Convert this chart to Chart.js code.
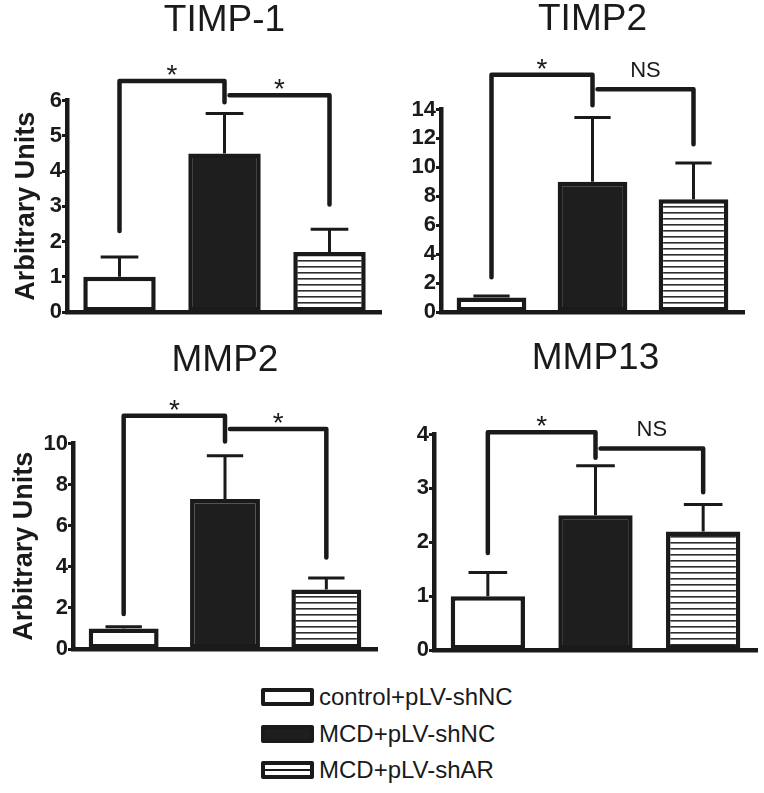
<!DOCTYPE html>
<html>
<head>
<meta charset="utf-8">
<script src="https://cdn.jsdelivr.net/npm/chart.js@4.4.1/dist/chart.umd.min.js"></script>
<style>
  html, body { margin: 0; padding: 0; background: #fff; }
  #wrap { position: relative; width: 764px; height: 793px; overflow: hidden; }
  #wrap canvas { position: absolute; }
  .legend { position: absolute; left: 261px; top: 679px; font-family: "Liberation Sans", Arial, sans-serif; font-size: 24px; color: #1a1a1a; }
  .row { display: flex; align-items: center; height: 36.5px; }
  .box { width: 45px; height: 10px; border: 4px solid #1a1a1a; border-radius: 2px; margin-right: 5px; background: #fff; }
  .box.dark { background: #1e1e1e; }
  .box.lines { background: linear-gradient(#fff 0 4px, #1a1a1a 4px 6px, #fff 6px 10px); }
</style>
</head>
<body>
<div id="wrap">
  <canvas id="c1" width="382" height="330" style="left:0;top:0"></canvas>
  <canvas id="c2" width="382" height="330" style="left:382px;top:0"></canvas>
  <canvas id="c3" width="382" height="340" style="left:0;top:330px"></canvas>
  <canvas id="c4" width="382" height="340" style="left:382px;top:330px"></canvas>
  <div class="legend">
    <div class="row"><div class="box"></div><span>control+pLV-shNC</span></div>
    <div class="row"><div class="box dark"></div><span>MCD+pLV-shNC</span></div>
    <div class="row"><div class="box lines"></div><span>MCD+pLV-shAR</span></div>
  </div>
</div>
<script>
// groups shown in every panel
const groups = ['control+pLV-shNC', 'MCD+pLV-shNC', 'MCD+pLV-shAR'];

// TIMP-1
const timp1Mean = [1.0, 4.5, 1.7];
const timp1Sem = [0.56, 1.13, 0.65];
const timp1Ticks = [0, 1, 2, 3, 4, 5, 6];
// [from, to, left leg end, bracket top, right leg end, label]
const timp1Sig = [[0, 1, 2.3, 6.55, 5.95, '*'], [1, 2, null, 6.15, 3.05, '*']];

// TIMP2
const timp2Mean = [1.0, 9.0, 7.8];
const timp2Sem = [0.1, 4.45, 2.5];
const timp2Ticks = [0, 2, 4, 6, 8, 10, 12, 14];
const timp2Sig = [[0, 1, 2.4, 16.4, 14.3, '*'], [1, 2, null, 15.4, 11.6, 'NS']];

// MMP2
const mmp2Mean = [1.0, 7.3, 2.9];
const mmp2Sem = [0.08, 2.1, 0.55];
const mmp2Ticks = [0, 2, 4, 6, 8, 10];
const mmp2Sig = [[0, 1, 1.7, 11.35, 10.1, '*'], [1, 2, null, 10.7, 4.45, '*']];

// MMP13
const mmp13Mean = [1.0, 2.5, 2.2];
const mmp13Sem = [0.44, 0.92, 0.5];
const mmp13Ticks = [0, 1, 2, 3, 4];
const mmp13Sig = [[0, 1, 1.8, 4.04, 3.57, '*'], [1, 2, null, 3.74, 2.93, 'NS']];

const INK = '#1a1a1a';
const FONT = '"Liberation Sans", Arial, Helvetica, sans-serif';

function stripes() {
    const c = document.createElement('canvas');
    c.width = 8; c.height = 6;
    const g = c.getContext('2d');
    g.fillStyle = '#fff';
    g.fillRect(0, 0, 8, 6);
    g.fillStyle = '#2e2e2e';
    g.fillRect(0, 2, 8, 1.6);
    return g.createPattern(c, 'repeat');
}

// error bars and significance brackets, placed through the y scale
function marks(mean, sem, sig) {
    return {
        id: 'marks',
        afterDatasetsDraw(chart) {
            const ctx = chart.ctx;
            const y = chart.scales.y;
            const bars = chart.getDatasetMeta(0).data;
            ctx.save();
            ctx.strokeStyle = INK;
            ctx.fillStyle = INK;

            ctx.lineWidth = 3;
            ctx.lineCap = 'butt';
            sem.forEach((s, i) => {
                const b = bars[i];
                const top = y.getPixelForValue(mean[i] + s);
                const half = b.width * 0.26;
                ctx.beginPath();
                ctx.moveTo(b.x, b.y);
                ctx.lineTo(b.x, top);
                ctx.moveTo(b.x - half, top);
                ctx.lineTo(b.x + half, top);
                ctx.stroke();
            });

            ctx.lineWidth = 4.5;
            ctx.lineCap = 'round';
            ctx.lineJoin = 'round';
            ctx.textAlign = 'center';
            ctx.textBaseline = 'alphabetic';
            sig.forEach(([a, b, l, t, r, label]) => {
                let xa = bars[a].x;
                const xb = bars[b].x;
                const yt = y.getPixelForValue(t);
                ctx.beginPath();
                if (l !== null) {
                    ctx.moveTo(xa, y.getPixelForValue(l));
                    ctx.lineTo(xa, yt);
                } else {
                    xa += 5;
                    ctx.moveTo(xa, yt);
                }
                ctx.lineTo(xb, yt);
                ctx.lineTo(xb, y.getPixelForValue(r));
                ctx.stroke();

                const cx = (xa + xb) / 2;
                if (label === '*') {
                    ctx.font = '28px ' + FONT;
                    ctx.fillText(label, cx, yt + 3);
                } else {
                    ctx.font = '22px ' + FONT;
                    ctx.fillText(label, cx, yt - 12.5);
                }
            });
            ctx.restore();
        }
    };
}

function makePanel(id, title, mean, sem, ticks, sig, lay) {
    const ctx = document.getElementById(id).getContext('2d');
    new Chart(ctx, {
        type: 'bar',
        data: {
            labels: groups,
            datasets: [{
                data: mean,
                backgroundColor: ['#ffffff', '#1e1e1e', stripes()],
                borderColor: INK,
                borderWidth: 4.5,
                borderSkipped: false,
                barPercentage: 1,
                categoryPercentage: 0.69
            }]
        },
        options: {
            responsive: false,
            animation: false,
            events: [],
            layout: { padding: { left: 0, top: 0, right: lay.right, bottom: lay.bottom } },
            plugins: {
                legend: { display: false },
                tooltip: { enabled: false },
                title: {
                    display: true,
                    text: title,
                    fullSize: false,
                    color: INK,
                    font: { family: FONT, size: 37, weight: 'normal', lineHeight: 1 },
                    padding: { top: lay.titleTop, bottom: lay.titleBottom }
                }
            },
            scales: {
                x: {
                    grid: { display: false },
                    ticks: { display: false },
                    border: { display: true, width: 4.5, color: INK },
                    afterFit: s => { s.height = 0; }
                },
                y: {
                    min: ticks[0],
                    max: ticks[ticks.length - 1],
                    ticks: {
                        stepSize: ticks[1] - ticks[0],
                        autoSkip: false,
                        color: INK,
                        padding: 0,
                        font: { family: FONT, size: 22, weight: 'bold', lineHeight: 1 }
                    },
                    grid: {
                        display: true,
                        drawOnChartArea: false,
                        drawTicks: true,
                        tickLength: 5,
                        tickWidth: 3,
                        tickColor: INK
                    },
                    border: { display: true, width: 4.5, color: INK },
                    title: {
                        display: lay.yTitle,
                        text: 'Arbitrary Units',
                        color: INK,
                        font: { family: FONT, size: 27, weight: 'bold', lineHeight: 1 },
                        padding: { top: lay.yTitlePad, bottom: 0 }
                    },
                    afterFit: s => { s.width = lay.axis; }
                }
            }
        },
        plugins: [marks(mean, sem, sig)]
    });
}

makePanel('c1', 'TIMP-1', timp1Mean, timp1Sem, timp1Ticks, timp1Sig,
    { axis: 67, right: 0, bottom: 18, titleTop: 2.5, titleBottom: 61, yTitle: true, yTitlePad: 13.5 });
makePanel('c2', 'TIMP2', timp2Mean, timp2Sem, timp2Ticks, timp2Sig,
    { axis: 59, right: 20, bottom: 18, titleTop: 1.5, titleBottom: 71, yTitle: false, yTitlePad: 0 });
makePanel('c3', 'MMP2', mmp2Mean, mmp2Sem, mmp2Ticks, mmp2Sig,
    { axis: 73, right: 5, bottom: 21, titleTop: 12.5, titleBottom: 64, yTitle: true, yTitlePad: 11.5 });
makePanel('c4', 'MMP13', mmp13Mean, mmp13Sem, mmp13Ticks, mmp13Sig,
    { axis: 52, right: 7, bottom: 20, titleTop: 10.5, titleBottom: 57, yTitle: false, yTitlePad: 0 });
</script>
</body>
</html>
